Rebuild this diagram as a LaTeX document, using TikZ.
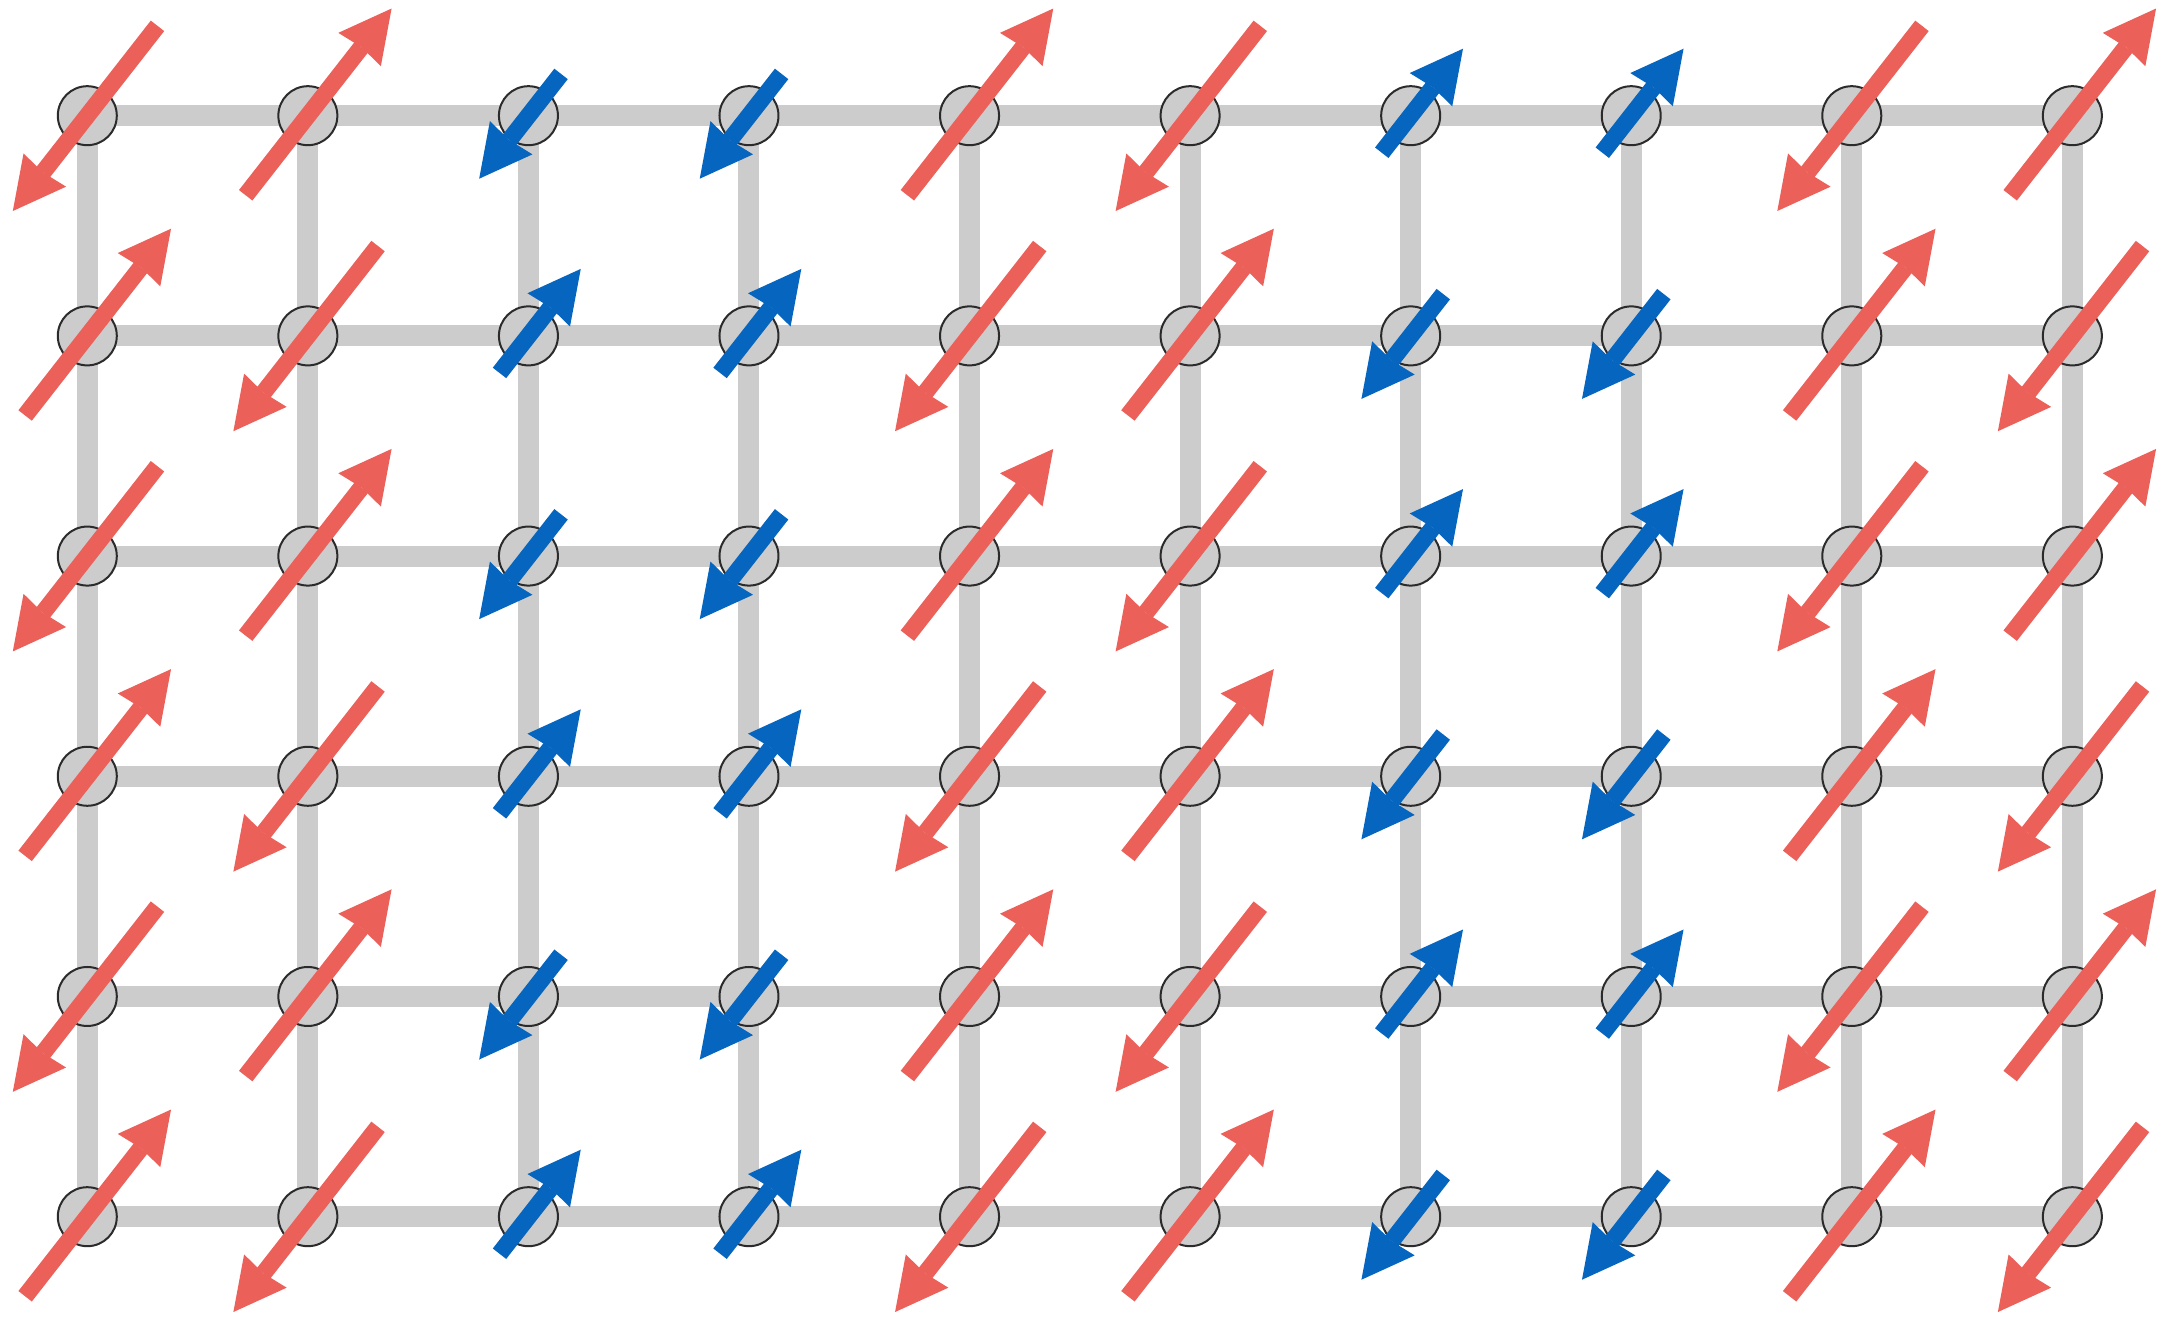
\documentclass[tikz,border=0pt]{standalone}
\usetikzlibrary{arrows.meta,calc,backgrounds}
\definecolor{spinred}{HTML}{EC605A}
\definecolor{spinblue}{HTML}{0565BF}
\definecolor{gridgray}{HTML}{CCCCCC}
\definecolor{siteline}{HTML}{2B2B2B}
\begin{document}
\begin{tikzpicture}[x=1pt,y=1pt,
  gridline/.style={draw=gridgray,line width=21pt},
  site/.style={circle,draw=siteline,fill=gridgray,line width=2pt,minimum size=59pt,inner sep=0pt},
  spinarrow/.style={line width=17pt,-{Stealth[length=52pt,width=54pt,inset=3pt,line width=0pt]}},
  arrowred/.style={spinarrow,draw=spinred,fill=spinred},
  arrowblue/.style={spinarrow,draw=spinblue,fill=spinblue}]
\useasboundingbox (0,0) rectangle (2162,1324);
% lattice sites
\foreach \c in {0,...,9}{
  \foreach \r in {0,...,5}{
    \node[site] (n-\r-\c) at ({87.3+\c*220.56},{1208.3-\r*220.2}) {};
  }
}
% bonds
\begin{pgfonlayer}{background}
\foreach \r in {0,...,5}{
  \draw[gridline] (n-\r-0.center) -- (n-\r-9.center);
}
\foreach \c in {0,...,9}{
  \draw[gridline] (n-0-\c.center) -- (n-5-\c.center);
}
\end{pgfonlayer}
% spins
\foreach \c/\p/\col/\tu/\hu/\td/\hd in {0/-1/red/101/136/114/121,1/1/red/101/136/114/121,2/-1/blue/47/85/53/80,3/-1/blue/47/85/53/80,4/1/red/101/136/114/121,5/-1/red/101/136/114/121,6/1/blue/47/85/53/80,7/1/blue/47/85/53/80,8/-1/red/101/136/114/121,9/1/red/101/136/114/121}{
  \foreach \r in {0,...,5}{
    \pgfmathtruncatemacro\s{\p*(1-2*mod(\r,2))}
    \ifnum\s>0
      \draw[arrow\col] ($(n-\r-\c)+(232:\tu)$) -- ($(n-\r-\c)+(52:\hu)$);
    \else
      \draw[arrow\col] ($(n-\r-\c)+(52:\td)$) -- ($(n-\r-\c)+(232:\hd)$);
    \fi
  }
}
\end{tikzpicture}
\end{document}
